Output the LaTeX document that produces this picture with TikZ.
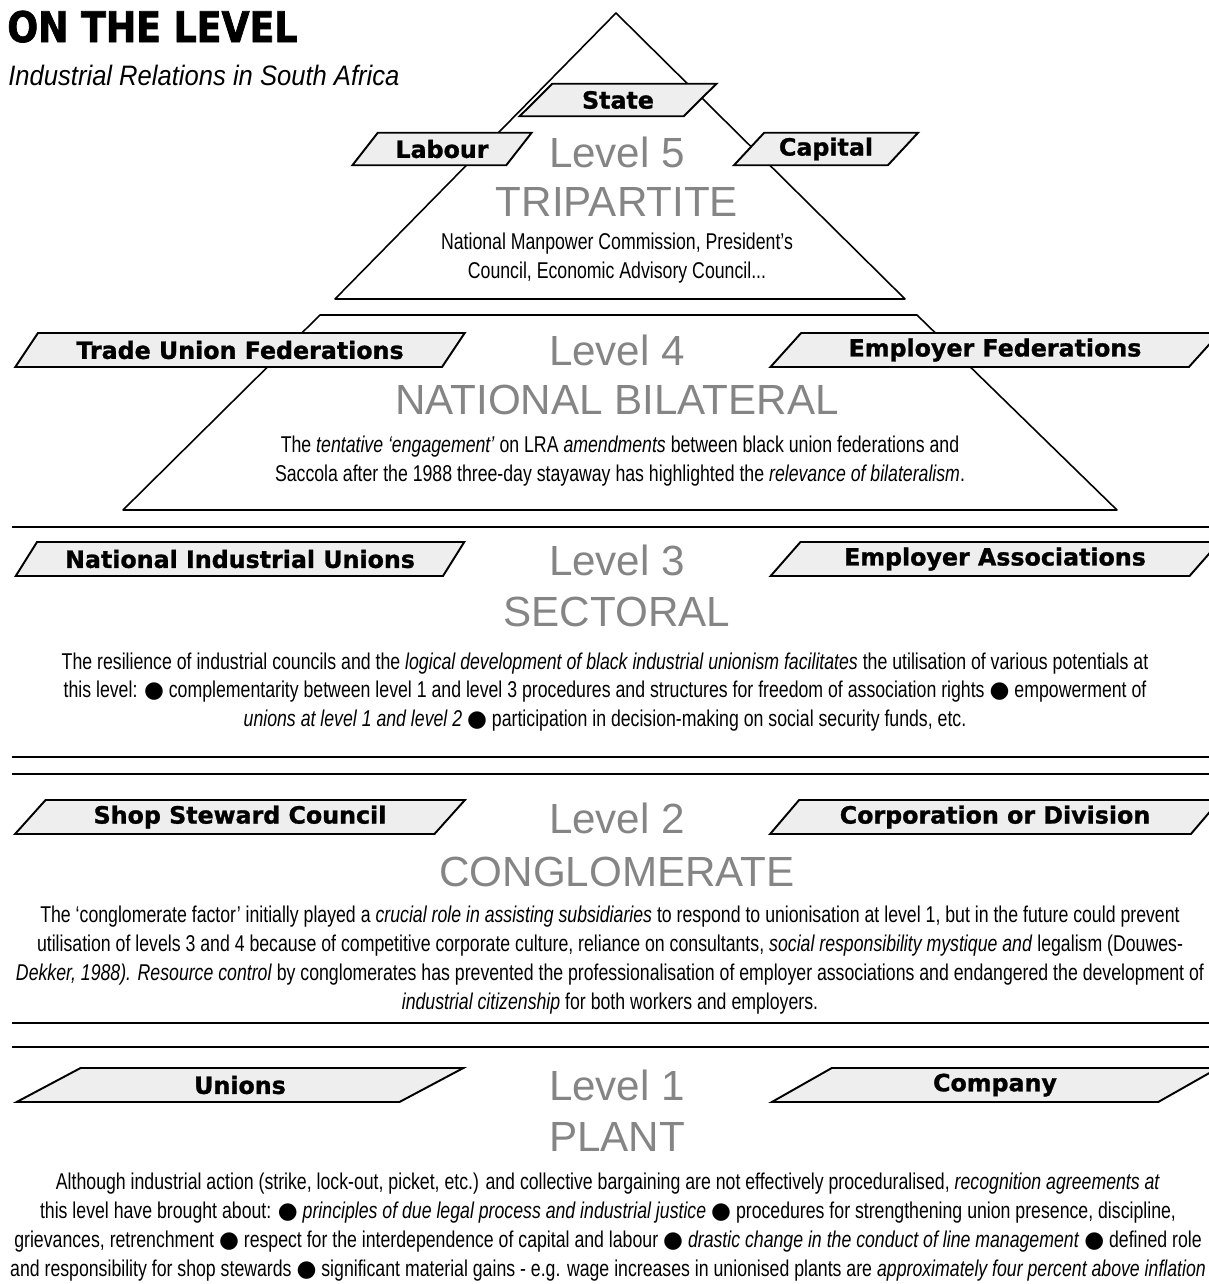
\documentclass[tikz,border=0pt]{standalone}
\usepackage{fontspec}
\setmainfont{Liberation Sans}
\newfontfamily\heavyfont[BoldFeatures={FakeBold=1.2}]{DejaVu Sans}
\newfontfamily\titlefont[FakeStretch=0.86, BoldFeatures={FakeBold=1.6}]{DejaVu Sans}
\newfontfamily\symfont{DejaVu Sans}
\newfontfamily\condfont[FakeStretch=0.775]{Liberation Sans}
\newfontfamily\subfont[FakeStretch=0.91]{Liberation Sans}
\usetikzlibrary{shapes.geometric, positioning}
\definecolor{lgray}{HTML}{858585}
\definecolor{tagfill}{HTML}{EEEEEE}
\newcommand{\blt}{{\symfont ●}}
\tikzset{trapezium stretches=true}
\tikzstyle{tag} = [trapezium, trapezium left angle=45, trapezium right angle=135, draw, line width=1.1pt, fill=tagfill, minimum width=9cm, minimum height=0.68cm, inner sep=0pt, font=\heavyfont\bfseries\fontsize{13.5}{14}\selectfont]
\tikzstyle{smalltag} = [tag, minimum width=3.8cm, minimum height=0.65cm]
\tikzstyle{level} = [inner sep=0pt, text=lgray, font=\fontsize{24}{26}\selectfont]
\tikzstyle{body} = [inner sep=0pt, align=center, font=\condfont\fontsize{13}{16.4}\selectfont]
\tikzstyle{edge} = [line width=0.9pt, line join=round]
\tikzstyle{rule} = [line width=0.9pt]

\begin{document}
\begin{tikzpicture}[x=0.2mm, y=-0.2mm]
\useasboundingbox (0,0) rectangle (1209,1284);
\clip (0,0) rectangle (1209,1284);
%Title
\node (title) [anchor=base west, inner sep=0pt, font=\titlefont\bfseries\fontsize{24}{26}\selectfont] at (7,42) {ON THE LEVEL};
\node (subtitle) [anchor=base west, inner sep=0pt, font=\subfont\itshape\fontsize{16}{18}\selectfont] at (8,85) {Industrial Relations in South Africa};
%Pyramid
\coordinate (apex) at (616,13);
\coordinate (t5l) at (335,299);
\coordinate (t5r) at (905,299);
\coordinate (t4tl) at (320,315);
\coordinate (t4tr) at (917,315);
\coordinate (t4br) at (1117,510);
\coordinate (t4bl) at (123,510);
\draw [edge] (apex) -- (t5r) -- (t5l) -- cycle;
\draw [edge] (t4tl) -- (t4tr) -- (t4br) -- (t4bl) -- cycle;
%Separators
\coordinate (r1a) at (12,527);
\coordinate (r2a) at (12,757);
\coordinate (r2b) at (12,774);
\coordinate (r3a) at (12,1023);
\coordinate (r3b) at (12,1047);
\foreach \r in {r1a, r2a, r2b, r3a, r3b}
  \draw [rule] (\r) -- (\r -| 1209,0);
%Level 5
\node (state) [smalltag, minimum width=3.94cm] at (618,100) {State};
\node (labour) [smalltag, minimum width=3.6cm] at (442,149) {Labour};
\node (capital) [smalltag, minimum width=3.7cm] at (826,149) {Capital};
\node (lvl5) [level] at (617,152) {Level 5};
\node (tripartite) [level] at (617,202) {TRIPARTITE};
\node (txt5) [body] at (617,258) {National Manpower Commission, President’s\\Council, Economic Advisory Council...};
%Level 4
\node (unionfed) [tag] at (240,350) {Trade Union Federations};
\node (employfed) [tag] at (995,350) {Employer Federations};
\node (lvl4) [level] at (617,350) {Level 4};
\node (bilateral) [level] at (617,400) {NATIONAL BILATERAL};
\node (txt4) [body] at (620,461) {The \textit{tentative ‘engagement’} on LRA \textit{amendments} between black union federations and\\Saccola after the 1988 three-day stayaway has highlighted the \textit{relevance of bilateralism}.};
%Level 3
\node (natunions) [tag] at (240,559) {National Industrial Unions};
\node (employass) [tag] at (995,559) {Employer Associations};
\node (lvl3) [level] at (617,560) {Level 3};
\node (sectoral) [level] at (617,612) {SECTORAL};
\node (txt3) [body] at (605,692) {The resilience of industrial councils and the \textit{logical development of black industrial unionism facilitates} the utilisation of various potentials at\\this level: \blt{} complementarity between level 1 and level 3 procedures and structures for freedom of association rights \blt{} empowerment of\\\textit{unions at level 1 and level 2} \blt{} participation in decision-making on social security funds, etc.};
%Level 2
\node (stewards) [tag] at (240,817) {Shop Steward Council};
\node (corporation) [tag] at (995,817) {Corporation or Division};
\node (lvl2) [level] at (617,818) {Level 2};
\node (conglomerate) [level] at (617,872) {CONGLOMERATE};
\node (txt2) [body] at (610,960) {The ‘conglomerate factor’ initially played a \textit{crucial role in assisting subsidiaries} to respond to unionisation at level 1, but in the future could prevent\\utilisation of levels 3 and 4 because of competitive corporate culture, reliance on consultants, \textit{social responsibility mystique and} legalism (Douwes-\\\textit{Dekker, 1988). Resource control} by conglomerates has prevented the professionalisation of employer associations and endangered the development of\\\textit{industrial citizenship} for both workers and employers.};
%Level 1
\node (unions) [tag] at (240,1085) {Unions};
\node (company) [tag] at (995,1085) {Company};
\node (lvl1) [level] at (617,1085) {Level 1};
\node (plant) [level] at (617,1137) {PLANT};
\node (txt1) [body] at (608,1227) {Although industrial action (strike, lock-out, picket, etc.) and collective bargaining are not effectively proceduralised, \textit{recognition agreements at}\\this level have brought about: \blt{} \textit{principles of due legal process and industrial justice} \blt{} procedures for strengthening union presence, discipline,\\grievances, retrenchment \blt{} respect for the interdependence of capital and labour \blt{} \textit{drastic change in the conduct of line management} \blt{} defined role\\and responsibility for shop stewards \blt{} significant material gains - e.g. wage increases in unionised plants are \textit{approximately four percent above inflation}};
\end{tikzpicture}
\end{document}
